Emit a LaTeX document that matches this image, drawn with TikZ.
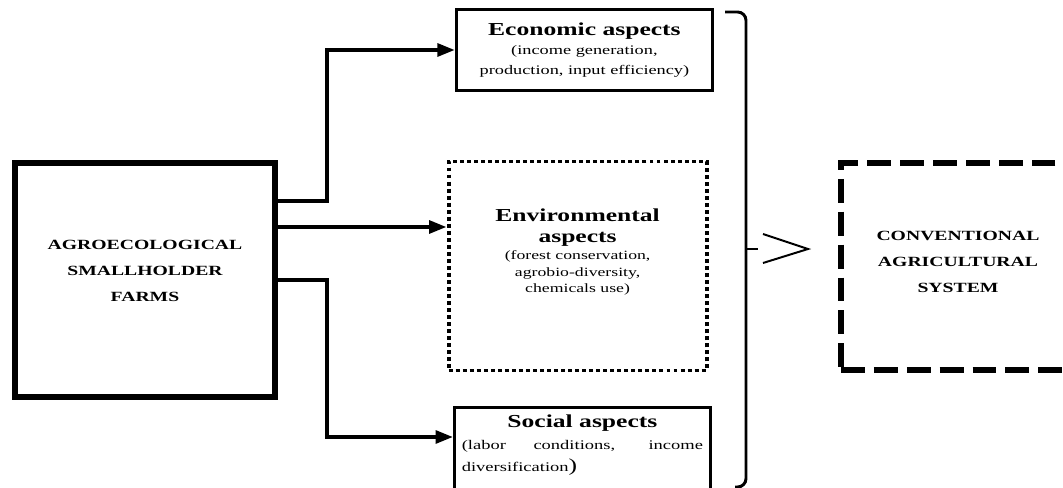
\documentclass[tikz,border=0pt]{standalone}
\usepackage{fontspec}
\setmainfont{Liberation Serif}[FakeStretch=1.4]
\usetikzlibrary{arrows.meta,positioning,calc}

\newcommand{\aspecthead}{\fontsize{13}{15}\selectfont\bfseries}
\newcommand{\capsfont}{\fontsize{10}{18.4}\selectfont\bfseries}

\begin{document}
\begin{tikzpicture}[
    farmbox/.style={rectangle, draw, line width=4.6pt, align=center, font=\capsfont},
    aspect/.style={rectangle, draw, line width=2.1pt, align=center, inner sep=3pt},
    flow/.style={-{Triangle[length=12.5pt,width=9pt]}, line width=2.8pt}
]
    \useasboundingbox (0,0) rectangle (26.575,12.175);

    \node[farmbox, minimum width=6.49cm, minimum height=5.85cm, text depth=0.45cm] (farms) at (3.625,5.175) {AGROECOLOGICAL\\SMALLHOLDER\\FARMS};

    \node[aspect, minimum width=6.4cm, minimum height=2.025cm, font=\fontsize{9.3}{14}\selectfont] (econ) at (14.61,10.925) {{\aspecthead Economic aspects}\\(income generation,\\production, input efficiency)};
    \node[aspect, line width=2.8pt, dash pattern=on 2.8pt off 2.2pt, minimum width=6.45cm, minimum height=5.225cm, font=\fontsize{9}{12}\selectfont, text depth=0.76cm] (env) at (14.44,5.525) {{\aspecthead Environmental}\\[3pt]{\aspecthead aspects}\\(forest conservation,\\agrobio-diversity,\\chemicals use)};
    \node[aspect, anchor=north, inner ysep=5.5pt, minimum width=6.39cm, font=\fontsize{9.4}{15.5}\selectfont, text depth=1.15cm] (social) at (14.56,2.025) {{\aspecthead Social aspects}\\\parbox[t]{6.03cm}{(labor conditions, income \mbox{diversification}{\fontsize{13}{15.5}\selectfont)}}};

    \node[farmbox, line width=4.3pt, dash pattern=on 17pt off 6.4pt, minimum width=5.85cm, minimum height=5.175cm, text depth=0.225cm] (conv) at (23.95,5.5125) {CONVENTIONAL\\AGRICULTURAL\\SYSTEM};

    % Arrows
    \coordinate (a1) at ([yshift=1.975cm]farms.east);
    \coordinate (a2) at ([yshift=1.325cm]farms.east);
    \draw[flow] (a1) -- ++(1.225,0) |- (econ.west);
    \draw[flow] (a2) -- (a2 -| env.west);
    \draw[flow] (farms.east) -- ++(1.225,0) |- ([yshift=-0.775cm]social.north west);

    % Bracket
    \coordinate (brk) at (18.65,5.95);
    \draw[line width=2.1pt, rounded corners=6pt] (18.125,11.875) -- (18.65,11.875) -- (18.65,0.0) -- (18.375,0.0);
    \draw[line width=2.1pt] (brk) -- ++(0.3,0);
    \draw[line width=1.4pt] ($(brk)+(0.425,0.375)$) -- ($(brk)+(1.55,0)$) -- ($(brk)+(0.425,-0.35)$);

\end{tikzpicture}
\end{document}
